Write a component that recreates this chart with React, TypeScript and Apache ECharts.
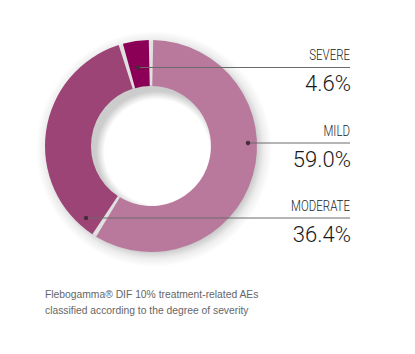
import React, { useEffect, useRef } from "react";
import * as echarts from "echarts";

const categories = ["MILD", "MODERATE", "SEVERE"];
const values = [59.0, 36.4, 4.6];
const colors = ["#b9799c", "#9d4476", "#8b0056"];
const captionLines = [
  "Flebogamma® DIF 10% treatment-related AEs",
  "classified according to the degree of severity",
];

// annotation anchor layout (dot x, line y) per category
const dotX = [248, 86, 138];
const lineY = [143, 218, 67.5];
const LINE_END = 350;

const CX = 151;
const CY = 146;

export default function App() {
  const ref = useRef<HTMLDivElement>(null);
  useEffect(() => {
    document.body.style.margin = "0";
    const chart = echarts.init(ref.current!, null, { renderer: "svg" });
    const graphics: any[] = [];
    categories.forEach((c, i) => {
      graphics.push({
        type: "line",
        shape: { x1: dotX[i], y1: lineY[i], x2: LINE_END, y2: lineY[i] },
        style: { stroke: "#6a6a6a", lineWidth: 1 },
        z: 10,
      });
      graphics.push({
        type: "circle",
        shape: { cx: dotX[i], cy: lineY[i], r: 2.2 },
        style: { fill: "#4a2a3c" },
        z: 11,
      });
      graphics.push({
        type: "text",
        x: LINE_END,
        y: lineY[i] - 5,
        scaleX: 0.82,
        style: {
          text: c,
          align: "right",
          verticalAlign: "bottom",
          fontFamily: "Roboto, sans-serif",
          fontWeight: 300,
          fontSize: 14,
          fill: "#222222",
        },
        z: 10,
      });
      graphics.push({
        type: "text",
        x: LINE_END + 1,
        y: lineY[i] + 5,
        style: {
          text: values[i].toFixed(1) + "%",
          align: "right",
          verticalAlign: "top",
          fontFamily: "Roboto, sans-serif",
          fontWeight: 300,
          fontSize: 22,
          fill: "#1a1a1a",
        },
        z: 10,
      });
    });
    captionLines.forEach((t, i) => {
      graphics.push({
        type: "text",
        x: 45,
        y: 294 + i * 15.7,
        scaleX: 0.89,
        style: {
          text: t,
          align: "left",
          verticalAlign: "middle",
          fontFamily: "'Liberation Sans', Arial, sans-serif",
          fontSize: 11.6,
          fill: "#666666",
        },
      });
    });

    chart.setOption({
      animation: false,
      backgroundColor: "#ffffff",
      graphic: graphics,
      series: [
        {
          // soft outer shadow
          type: "pie",
          silent: true,
          center: [CX + 3, CY + 3],
          radius: [90, 118],
          startAngle: 90,
          label: { show: false },
          labelLine: { show: false },
          itemStyle: {
            color: {
              type: "radial",
              x: 0.5,
              y: 0.5,
              r: 0.5,
              colorStops: [
                { offset: 0, color: "rgba(0,0,0,0.28)" },
                { offset: 0.86, color: "rgba(0,0,0,0.22)" },
                { offset: 0.93, color: "rgba(0,0,0,0.07)" },
                { offset: 1, color: "rgba(0,0,0,0)" },
              ],
            },
          },
          emphasis: { disabled: true },
          data: [{ value: 1, name: "shadow" }],
          z: 0,
        },
        {
          // grey ring visible through the gaps
          type: "pie",
          silent: true,
          center: [CX, CY],
          radius: [61, 105],
          startAngle: 90,
          label: { show: false },
          labelLine: { show: false },
          itemStyle: { color: "#e0e0e0" },
          emphasis: { disabled: true },
          data: [{ value: 1, name: "bg" }],
          z: 1,
        },
        {
          // inner shadow in the hole
          type: "pie",
          silent: true,
          center: [CX, CY],
          radius: [0, 61],
          startAngle: 90,
          label: { show: false },
          labelLine: { show: false },
          itemStyle: {
            color: {
              type: "radial",
              x: 0.5 + 6 / 122,
              y: 0.5 + 6 / 122,
              r: 0.5,
              colorStops: [
                { offset: 0, color: "rgba(0,0,0,0)" },
                { offset: 0.86, color: "rgba(0,0,0,0)" },
                { offset: 1, color: "rgba(0,0,0,0.2)" },
              ],
            },
          },
          emphasis: { disabled: true },
          data: [{ value: 1, name: "hole" }],
          z: 1,
        },
        {
          type: "pie",
          center: [CX, CY],
          radius: [60, 106],
          startAngle: 90,
          clockwise: true,
          padAngle: 2.4,
          label: { show: false },
          labelLine: { show: false },
          data: categories.map((c, i) => ({
            name: c,
            value: values[i],
            itemStyle: { color: colors[i] },
          })),
          z: 2,
        },
      ],
    });
    return () => chart.dispose();
  }, []);
  return <div ref={ref} style={{ width: 415, height: 354 }} />;
}
